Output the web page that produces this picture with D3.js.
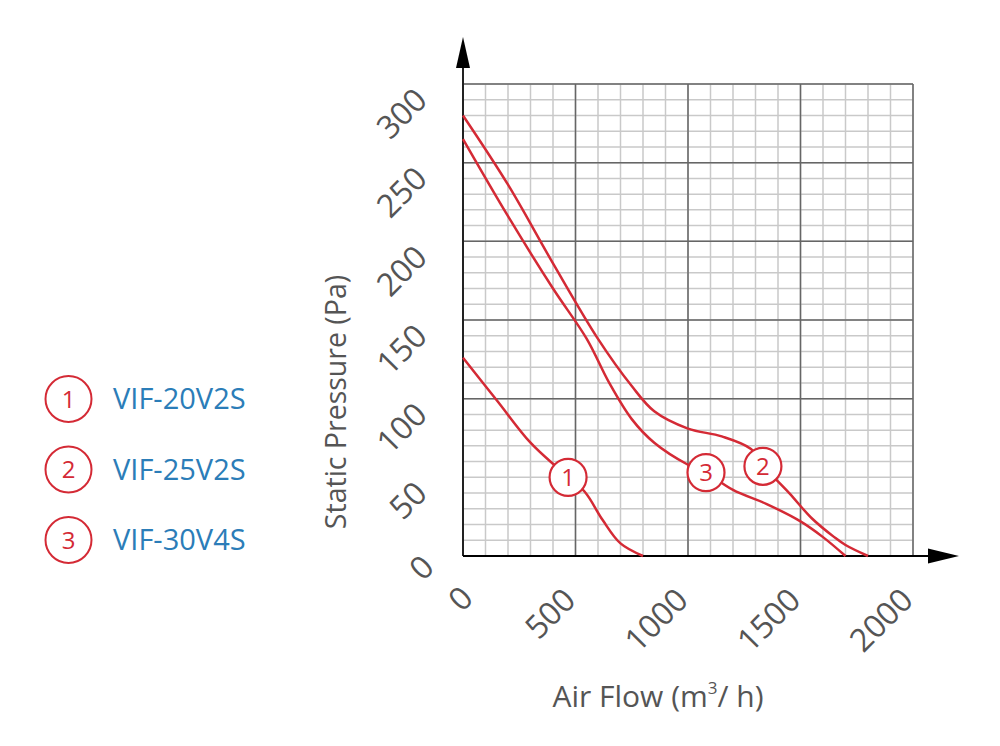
<!DOCTYPE html>
<html>
<head>
<meta charset="utf-8">
<script src="https://cdn.jsdelivr.net/npm/d3@7"></script>
<style>
  body { margin: 0; background: #fff; }
  svg { display: block; }
  text { font-family: "Open Sans", sans-serif; }
</style>
</head>
<body>
<svg id="chart" width="1000" height="746"></svg>
<script>
// ── Data ──────────────────────────────────────────────────────────────────────
const xTicks  = [0, 500, 1000, 1500, 2000];
const yTicks  = [0, 50, 100, 150, 200, 250, 300];
const yMajor  = [100, 150, 200, 250, 300];          // dark horizontal grid lines
const xMajor  = [500, 1000, 1500, 2000];            // dark vertical grid lines
const models  = ['VIF-20V2S', 'VIF-25V2S', 'VIF-30V4S'];

// [air flow m³/h, static pressure Pa]
const curve1 = [[0, 126], [150, 99], [300, 72], [420, 56], [540, 41], [620, 23],
                [700, 8], [800, 0]];
const curve2 = [[0, 280], [200, 236], [400, 186], [600, 138], [750, 108], [850, 92],
                [1000, 81], [1150, 76], [1280, 68], [1350, 55], [1450, 40],
                [1550, 24], [1650, 12], [1700, 7], [1800, 0]];
const curve3 = [[0, 265], [200, 216], [400, 170], [550, 138], [650, 110], [750, 87],
                [850, 72], [1000, 58], [1080, 53], [1200, 42], [1350, 33],
                [1500, 22], [1600, 12], [1700, 0]];
const curves  = [curve1, curve2, curve3];
// numbered badge placed on each curve
const badges  = [[467, 50], [1333, 57], [1080, 53]];

// ── Setup ─────────────────────────────────────────────────────────────────────
const RED  = '#d42a35';
const GREY = '#555';
const svg  = d3.select('#chart');

const x = d3.scaleLinear().domain([0, 2000]).range([463, 913]);
const y = d3.scaleLinear().domain([0, 300]).range([556, 84]);

// ── Grid ──────────────────────────────────────────────────────────────────────
const grid = svg.append('g');
grid.selectAll('.vmin').data(d3.range(100, 2001, 100)).enter().append('line')
  .attr('x1', d => x(d)).attr('x2', d => x(d))
  .attr('y1', y(0)).attr('y2', y(300))
  .attr('stroke', '#c9c9c9').attr('stroke-width', 1.5);
grid.selectAll('.hmin').data(d3.range(10, 301, 10)).enter().append('line')
  .attr('x1', x(0)).attr('x2', x(2000))
  .attr('y1', d => y(d)).attr('y2', d => y(d))
  .attr('stroke', '#c9c9c9').attr('stroke-width', 1.5);
grid.selectAll('.vmaj').data(xMajor).enter().append('line')
  .attr('x1', d => x(d)).attr('x2', d => x(d))
  .attr('y1', y(0)).attr('y2', y(300))
  .attr('stroke', '#666').attr('stroke-width', 1.5);
grid.selectAll('.hmaj').data(yMajor).enter().append('line')
  .attr('x1', x(0)).attr('x2', x(2000))
  .attr('y1', d => y(d)).attr('y2', d => y(d))
  .attr('stroke', '#666').attr('stroke-width', 1.5);

// ── Axes with arrows ─────────────────────────────────────────────────────────
svg.append('line')
  .attr('x1', x(0)).attr('x2', x(0)).attr('y1', y(0)).attr('y2', 66)
  .attr('stroke', '#222').attr('stroke-width', 2);
svg.append('path')
  .attr('d', `M${x(0)},37 L${x(0) + 7},68 L${x(0) - 7},68 Z`)
  .attr('fill', '#000');
svg.append('line')
  .attr('x1', x(0)).attr('x2', 930).attr('y1', y(0)).attr('y2', y(0))
  .attr('stroke', '#000').attr('stroke-width', 2);
svg.append('path')
  .attr('d', `M959,${y(0)} L928,${y(0) - 7.5} L928,${y(0) + 7.5} Z`)
  .attr('fill', '#000');

// ── Tick labels (rotated -45°) ───────────────────────────────────────────────
// the lone "0" sits a little closer to the origin in the original
svg.append('g').selectAll('text').data(yTicks).enter().append('text')
  .attr('transform', d => d === 0
      ? `translate(436,${y(d) + 13}) rotate(-45)`
      : `translate(429,${y(d) + 18}) rotate(-45)`)
  .attr('text-anchor', 'end')
  .attr('font-size', 32).attr('fill', GREY)
  .text(d => d);
svg.append('g').selectAll('text').data(xTicks).enter().append('text')
  .attr('transform', d => d === 0
      ? `translate(${x(d) + 12},600) rotate(-45)`
      : `translate(${x(d) + 2},602) rotate(-45)`)
  .attr('text-anchor', 'end')
  .attr('font-size', 32).attr('fill', GREY)
  .text(d => d);

// ── Axis titles ──────────────────────────────────────────────────────────────
svg.append('text')
  .attr('transform', 'translate(346,402) rotate(-90)')
  .attr('text-anchor', 'middle')
  .attr('font-size', 28.5).attr('fill', GREY)
  .text('Static Pressure (Pa)');
const xt = svg.append('text')
  .attr('x', 658).attr('y', 707)
  .attr('text-anchor', 'middle')
  .attr('font-size', 30).attr('fill', GREY);
xt.append('tspan').text('Air Flow (m');
xt.append('tspan').attr('dy', -13).attr('font-size', 17).text('3');
xt.append('tspan').attr('dy', 13).text('/ h)');

// ── Curves ───────────────────────────────────────────────────────────────────
const line = d3.line()
  .x(d => x(d[0])).y(d => y(d[1]))
  .curve(d3.curveCatmullRom.alpha(0.5));
svg.append('g').selectAll('path').data(curves).enter().append('path')
  .attr('d', line)
  .attr('fill', 'none').attr('stroke', RED).attr('stroke-width', 2.5);

// numbered badges on curves
const badge = svg.append('g').selectAll('g').data(badges).enter().append('g')
  .attr('transform', d => `translate(${x(d[0])},${y(d[1])})`);
badge.append('circle')
  .attr('r', 18.5).attr('fill', '#fff')
  .attr('stroke', RED).attr('stroke-width', 2.2);
badge.append('text')
  .attr('text-anchor', 'middle').attr('dy', '0.36em')
  .attr('font-size', 24).attr('fill', RED)
  .text((d, i) => i + 1);

// ── Legend ───────────────────────────────────────────────────────────────────
const leg = svg.append('g').selectAll('g').data(models).enter().append('g')
  .attr('transform', (d, i) => `translate(0,${399 + i * 70.5})`);
leg.append('circle')
  .attr('cx', 68.5).attr('r', 23)
  .attr('fill', 'none').attr('stroke', RED).attr('stroke-width', 2);
leg.append('text')
  .attr('x', 68.5).attr('dy', '0.36em')
  .attr('text-anchor', 'middle')
  .attr('font-size', 24).attr('fill', RED)
  .text((d, i) => i + 1);
leg.append('text')
  .attr('x', 113).attr('dy', '0.36em')
  .attr('font-size', 29).attr('fill', '#2b7db8')
  .text(d => d);
</script>
</body>
</html>
